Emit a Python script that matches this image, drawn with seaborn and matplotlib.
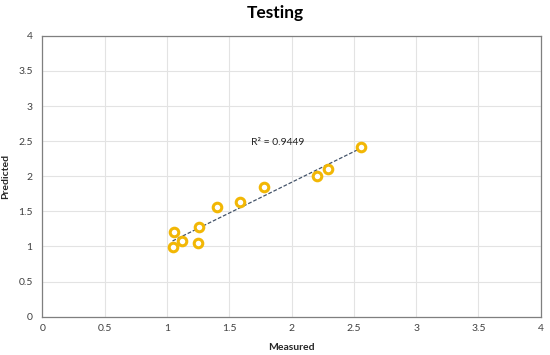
import numpy as np
import pandas as pd
import seaborn as sns
import matplotlib
matplotlib.use("Agg")
import matplotlib.pyplot as plt

measured = [1.045, 1.053, 1.125, 1.246, 1.257, 1.404, 1.584, 1.777, 2.203, 2.297, 2.556]
predicted = [0.99, 1.20, 1.077, 1.049, 1.271, 1.557, 1.629, 1.843, 2.01, 2.11, 2.414]
ticks = [0, 0.5, 1, 1.5, 2, 2.5, 3, 3.5, 4]
tick_labels = ["0", "0.5", "1", "1.5", "2", "2.5", "3", "3.5", "4"]
r2_text = "R² = 0.9449"

sns.set_theme(style="white")
plt.rcParams['font.family'] = ['Lato', 'DejaVu Sans']

df = pd.DataFrame({"Measured": measured, "Predicted": predicted})

fig = plt.figure(figsize=(5.5, 3.55), dpi=100)
ax = fig.add_axes([0.077, 0.108, 0.906, 0.791])

slope, intercept = np.polyfit(df["Measured"], df["Predicted"], 1)
xs = np.array([df["Measured"].min(), df["Measured"].max()])
ax.plot(xs, slope * xs + intercept, linestyle=(0, (3, 1.5)), color="#44546A", lw=0.9, zorder=2)

sns.scatterplot(data=df, x="Measured", y="Predicted", ax=ax, marker="o",
                s=38, facecolor="white", edgecolor="#F2B705", linewidth=2.2, zorder=3)

ax.set_xlim(0, 4)
ax.set_ylim(0, 4)
ax.set_xticks(ticks)
ax.set_xticklabels(tick_labels)
ax.set_yticks(ticks)
ax.set_yticklabels(tick_labels)
ax.grid(True, color="#E3E3E3", lw=0.8)
ax.set_axisbelow(True)
for s in ax.spines.values():
    s.set_color("#7F7F7F")
    s.set_linewidth(0.9)
ax.tick_params(axis="both", labelsize=7.5, colors="#404040", length=0)
ax.tick_params(axis="y", pad=7)
ax.tick_params(axis="x", pad=5)
ax.set_xlabel("Measured", fontsize=7.5, fontweight="bold", color="#262626")
ax.set_ylabel("Predicted", fontsize=7.5, fontweight="bold", color="#262626")
ax.yaxis.set_label_coords(-0.064, 0.5)
ax.xaxis.set_label_coords(0.5, -0.095)

ax.text(1.89, 2.48, r2_text, fontsize=7.5, color="#262626", ha="center", va="center")

fig.text(0.5, 0.963, "Testing", ha="center", va="center", fontsize=12.5, fontweight="bold", color="#000000")

fig.savefig("out.png", dpi=100, facecolor="white")
